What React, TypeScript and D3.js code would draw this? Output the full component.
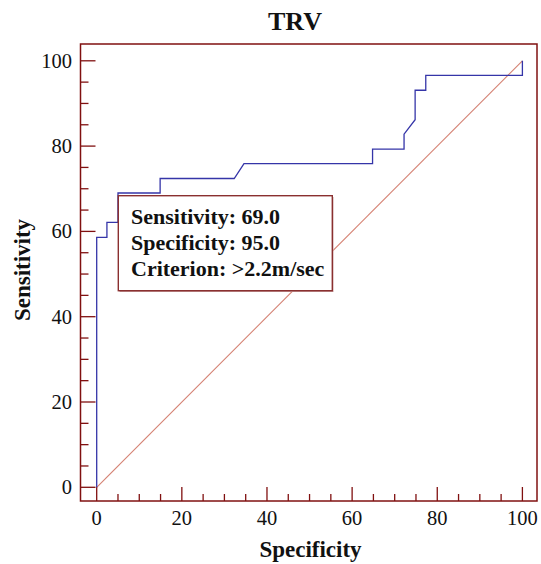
import React from "react";
import * as d3 from "d3";

const rocX = [0, 0, 2.4, 2.4, 5, 5, 14.9, 14.9, 32.3, 34.6, 64.8, 64.8, 72.2, 72.2, 74.8, 74.8, 77.3, 77.3, 100, 100];
const rocY = [0, 58.6, 58.6, 62.1, 62.1, 69.0, 69.0, 72.4, 72.4, 75.9, 75.9, 79.3, 79.3, 82.8, 86.2, 93.1, 93.1, 96.6, 96.6, 100];
const diagX = [0, 100];
const diagY = [0, 100];
const majorTicks = [0, 20, 40, 60, 80, 100];
const minorTicks = d3.range(0, 101, 5).filter((v) => v % 20 !== 0);
const boxLines = ["Sensitivity: 69.0", "Specificity: 95.0", "Criterion: >2.2m/sec"];
const title = "TRV";
const xLabel = "Specificity";
const yLabel = "Sensitivity";

export default function App() {
  const W = 541, H = 564;
  const frame = { l: 80.5, t: 44, r: 537, b: 501 };
  const x = d3.scaleLinear().domain([0, 100]).range([96.7, 522.4]);
  const y = d3.scaleLinear().domain([0, 100]).range([487.3, 60.8]);
  const axisColor = "#801010";
  const font = "'Liberation Serif', 'Times New Roman', serif";

  const roc = d3.line<number>().x((_, i) => x(rocX[i])).y((_, i) => y(rocY[i]))(rocX.map((_, i) => i)) as string;
  const diag = d3.line<number>().x((_, i) => x(diagX[i])).y((_, i) => y(diagY[i]))(diagX.map((_, i) => i)) as string;

  return (
    <svg width={W} height={H} style={{ position: "absolute", left: 0, top: 0, background: "#fff" }}>
      <rect x={0} y={0} width={W} height={H} fill="#fff" />
      <text x={295} y={30} textAnchor="middle" fontFamily={font} fontWeight="bold" fontSize={26} fill="#111">{title}</text>
      {majorTicks.map((v) => (
        <g key={"M" + v}>
          <line x1={frame.l} x2={frame.l + 15} y1={y(v)} y2={y(v)} stroke={axisColor} strokeWidth={1.3} />
          <line x1={x(v)} x2={x(v)} y1={frame.b} y2={frame.b - 14} stroke={axisColor} strokeWidth={1.3} />
          <text x={72} y={y(v) + 6.8} textAnchor="end" fontFamily={font} fontSize={20.5} fill="#111">{v}</text>
          <text x={x(v)} y={525} textAnchor="middle" fontFamily={font} fontSize={20.5} fill="#111">{v}</text>
        </g>
      ))}
      {minorTicks.map((v) => (
        <g key={"m" + v}>
          <line x1={frame.l} x2={frame.l + 8} y1={y(v)} y2={y(v)} stroke={axisColor} strokeWidth={1.3} />
          <line x1={x(v)} x2={x(v)} y1={frame.b} y2={frame.b - 7} stroke={axisColor} strokeWidth={1.3} />
        </g>
      ))}
      <path d={diag} fill="none" stroke="#cc6a58" strokeWidth={1.1} strokeOpacity={0.85} />
      <path d={roc} fill="none" stroke="#3535a8" strokeWidth={1.3} />
      <rect x={frame.l} y={frame.t} width={frame.r - frame.l} height={frame.b - frame.t} fill="none" stroke={axisColor} strokeWidth={1.5} />
      <rect x={119.5} y={197} width={214} height={95} fill="#c9a0a0" />
      <rect x={118.3} y={195.7} width={214} height={95} fill="#fff" stroke="#8a3030" strokeWidth={1.4} />
      {boxLines.map((t, i) => (
        <text key={t} x={131} y={224 + i * 26.2} fontFamily={font} fontWeight="bold" fontSize={22} fill="#111">{t}</text>
      ))}
      <text x={310.5} y={557} textAnchor="middle" fontFamily={font} fontWeight="bold" fontSize={23} fill="#111">{xLabel}</text>
      <text transform="translate(30,270) rotate(-90)" textAnchor="middle" fontFamily={font} fontWeight="bold" fontSize={23} fill="#111">{yLabel}</text>
    </svg>
  );
}
